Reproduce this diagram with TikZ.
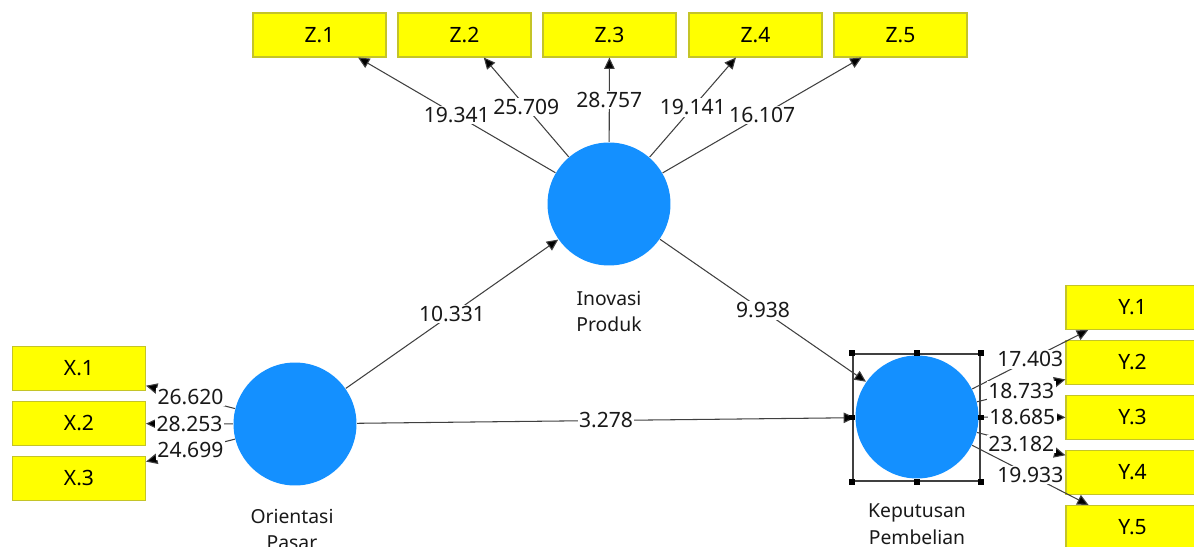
\documentclass[tikz,border=0pt]{standalone}
\usepackage{fontspec}
\setmainfont{Noto Sans}
\usetikzlibrary{arrows.meta}
\definecolor{lv_blue}{RGB}{20,144,255}
\definecolor{ind_yellow}{RGB}{255,255,0}
\definecolor{ind_edge}{RGB}{196,196,40}
\definecolor{path_gray}{RGB}{64,64,64}
\definecolor{txt_gray}{RGB}{25,25,25}

\begin{document}
\begin{tikzpicture}[->,>={Triangle[length=6.5pt,width=6pt]},x=0.02cm,y=-0.02cm,line width=0.6pt]
    \tikzstyle{indicator}=[draw=ind_edge, rectangle, fill=ind_yellow, minimum width=2.66cm, minimum height=0.88cm, text=black, font=\fontsize{12}{14}\selectfont]
    \tikzstyle{construct}=[circle, fill=lv_blue, draw=none, minimum size=2.46cm, inner sep=0pt]
    \tikzstyle{weight}=[fill=white, inner sep=0.8pt, text=txt_gray, font=\fontsize{12}{14}\selectfont]
    \tikzstyle{caption}=[align=center, text=txt_gray, font=\fontsize{11}{15.3}\selectfont]
    \tikzstyle{handle}=[rectangle, fill=black, minimum size=0.12cm, inner sep=0pt]

    \useasboundingbox (0,0) rectangle (1194,547);

    % latent variables
    \node[construct] (IP) at (609,204) {};
    \node[construct] (OP) at (295,424) {};
    \node[construct] (KP) at (917,417) {};
    \node[caption] (IPlab) at (609,311.5) {Inovasi\\Produk};
    \node[caption] (OPlab) at (292,529.5) {Orientasi\\Pasar};
    \node[caption] (KPlab) at (917,524) {Keputusan\\Pembelian};

    % indicators
    \foreach \i/\xx in {1/319.5,2/464.5,3/609.5,4/755.5,5/900.5}
      \node[indicator] (Z\i) at (\xx,35) {Z.\i};
    \foreach \i/\yy in {1/368.5,2/423.5,3/478.5}
      \node[indicator] (X\i) at (79,\yy) {X.\i};
    \foreach \i/\yy in {1/307.5,2/362.5,3/417.5,4/472.5,5/527.5}
      \node[indicator] (Y\i) at (1132.5,\yy) {Y.\i};

    \path[draw=path_gray, every node/.style=weight]
     (IP) edge node {19.341} (Z1)
     (IP) edge node {25.709} (Z2)
     (IP) edge node {28.757} (Z3)
     (IP) edge node {19.141} (Z4)
     (IP) edge node {16.107} (Z5)
     (OP) edge node {26.620} (X1)
     (OP) edge node {28.253} (X2)
     (OP) edge node {24.699} (X3)
     (KP) edge node {17.403} (Y1)
     (KP) edge node {18.733} (Y2)
     (KP) edge node {18.685} (Y3)
     (KP) edge node {23.182} (Y4)
     (KP) edge node {19.933} (Y5)
     (OP) edge node {10.331} (IP)
     (IP) edge node {9.938} (KP)
     (OP) edge node {3.278} (KP);

    % selection frame
    \node[draw=path_gray, line width=0.8pt, minimum size=2.54cm, inner sep=0pt] (sel) at (916.5,417.5) {};
    \foreach \a [count=\k] in {north west,north,north east,east,south east,south,south west,west}
      \node[handle] (hdl\k) at (sel.\a) {};
  \end{tikzpicture}
\end{document}
